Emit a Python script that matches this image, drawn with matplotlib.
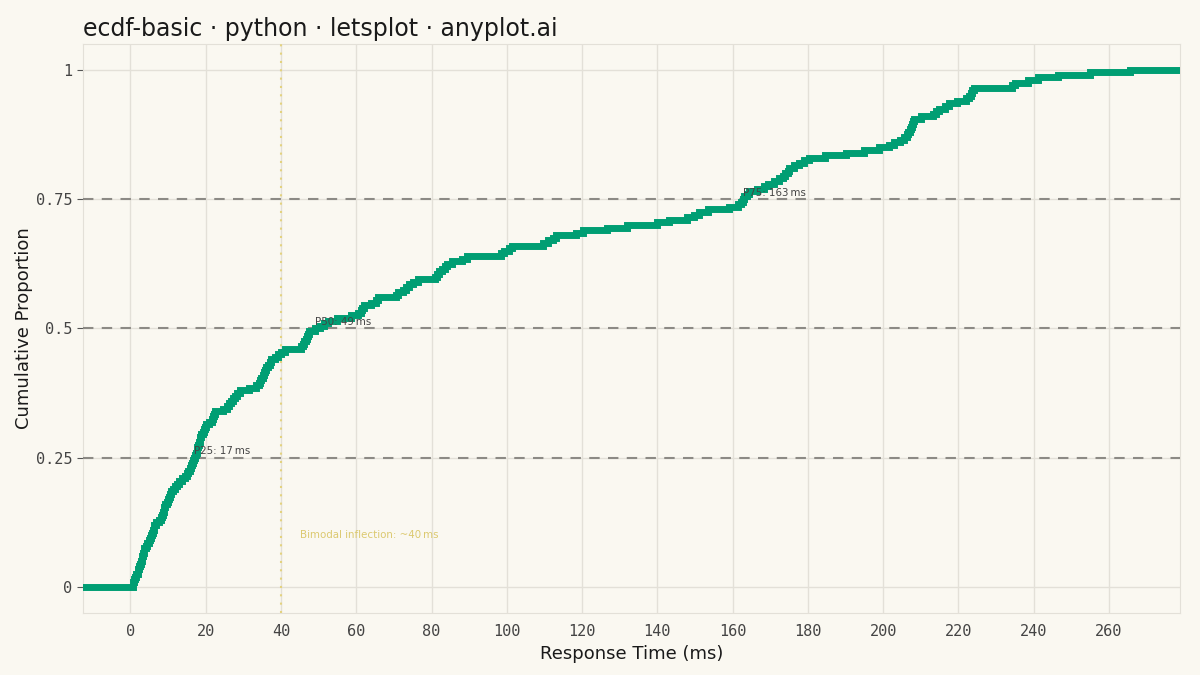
import numpy as np
import matplotlib
matplotlib.use('Agg')
import matplotlib.pyplot as plt

# response times (ms) (n = 200)
response_ms = [
    0.6, 0.8, 1.0, 1.3, 1.6, 1.9, 2.1, 2.4, 2.6, 2.8, 3.0, 3.2, 3.4, 3.5, 3.7,
    4.1, 4.5, 4.9, 5.3, 5.6, 5.8, 6.0, 6.2, 6.4, 6.9, 7.5, 8.1,
    8.4, 8.6, 8.8, 9.0, 9.2, 9.6, 9.9, 10.2, 10.5, 10.8,
    11.3, 11.8, 12.3, 12.8, 13.6, 14.4, 15.0, 15.4, 15.8, 16.1, 16.4,
    16.7, 16.9, 17.2, 17.4, 17.6, 17.8, 18.0, 18.2, 18.4, 18.6, 18.8,
    19.2, 19.5, 19.8, 20.1, 21.0, 21.8, 22.0, 22.3, 22.5, 24.5,
    25.7, 26.2, 26.7, 27.3, 27.8, 28.3, 29.2, 31.5, 33.5,
    34.1, 34.4, 34.7, 35.2, 35.5, 35.8, 36.1, 36.6, 37.0, 37.4, 38.4,
    39.3, 39.9, 41.0, 45.3, 45.8, 46.2, 46.6, 46.9, 47.2, 47.5, 49.0,
    50.5, 51.5, 52.5, 55.0, 58.5, 60.5, 61.2, 61.6, 62.0, 64.0, 65.3, 65.9,
    70.6, 71.2, 72.5, 73.3, 74.0, 75.2, 76.3, 81.0, 81.5, 82.0,
    82.8, 83.5, 84.2, 85.5, 88.0, 89.5, 98.5, 99.2, 100.5, 101.5,
    109.5, 111.0, 112.2, 113.2, 118.5, 120.3, 126.5, 132.0, 140.0, 143.0,
    148.0, 149.8, 151.0, 153.5, 159.0, 161.5, 162.3, 162.7, 163.1,
    163.8, 164.3, 166.5, 168.3, 169.5, 171.0, 172.3,
    173.3, 174.0, 174.6, 175.1, 176.3, 177.5, 179.0, 180.2, 184.5, 190.0,
    195.0, 199.0, 201.5, 203.0, 204.5, 205.5, 206.2, 206.6, 207.0,
    207.4, 207.7, 208.0, 208.3, 210.0, 213.2, 214.0, 214.8, 216.5, 217.5,
    219.5, 222.0, 222.9, 223.2, 223.5, 224.2, 234.3, 234.9, 238.5,
    241.0, 246.5, 255.0, 265.5,
]
quartiles = [0.25, 0.5, 0.75]
quartile_names = ['P25', 'P50', 'P75']
inflection_ms = 40

x = np.sort(np.array(response_ms))
n = len(x)
y = np.arange(1, n + 1) / n

span = x.max() - x.min()
xlo, xhi = x.min() - 0.05 * span, x.max() + 0.05 * span

bg = '#faf8f1'
fig = plt.figure(figsize=(12, 6.75), dpi=100, facecolor=bg)
ax = fig.add_axes([0.069, 0.092, 0.914, 0.843], facecolor=bg)

xs = np.concatenate([[xlo], x, [xhi]])
ys = np.concatenate([[0], y, [1]])
ax.step(xs, ys, where='post', color='#009e73', lw=5, solid_joinstyle='miter', zorder=4)

for q, name in zip(quartiles, quartile_names):
    ax.axhline(q, color='#8c8a85', lw=1.5, ls=(0, (5, 4)), zorder=3)
    v = np.percentile(x, q * 100, method='inverted_cdf')
    ax.text(v, q + 0.003, f'{name}: {v:.0f}\u2009ms', fontsize=7.4, color='#444444',
            ha='left', va='bottom', zorder=5)

ax.axvline(inflection_ms, color='#e3d27f', lw=1.5, ls=(0, (1, 3)), zorder=3)
ax.text(inflection_ms + 5, 0.1, 'Bimodal inflection: ~40\u2009ms', fontsize=7.4,
        color='#dcc96f', ha='left', va='center', zorder=5)

ax.set_xlim(xlo, xhi)
ax.set_ylim(-0.05, 1.05)
ax.set_xticks(np.arange(0, 261, 20))
ax.set_yticks([0, 0.25, 0.5, 0.75, 1])
ax.set_yticklabels(['0', '0.25', '0.5', '0.75', '1'])
ax.grid(True, color='#e3e0d8', lw=1, zorder=0)
ax.set_axisbelow(True)
for s in ax.spines.values():
    s.set_color('#e3e0d8')
ax.tick_params(axis='x', length=0, pad=8, labelsize=11, labelcolor='#444444')
ax.tick_params(axis='y', length=4, color='#555555', labelsize=11, labelcolor='#444444')
for lab in ax.get_xticklabels() + ax.get_yticklabels():
    lab.set_family('DejaVu Sans Mono')

ax.set_xlabel('Response Time (ms)', fontsize=13, color='#1a1a1a', labelpad=4)
ax.set_ylabel('Cumulative Proportion', fontsize=13, color='#1a1a1a', labelpad=2)
ax.set_title('ecdf-basic \u00b7 python \u00b7 letsplot \u00b7 anyplot.ai', fontsize=17,
             color='#1a1a1a', loc='left', pad=6)

fig.savefig('out.png', dpi=100, facecolor=bg)
